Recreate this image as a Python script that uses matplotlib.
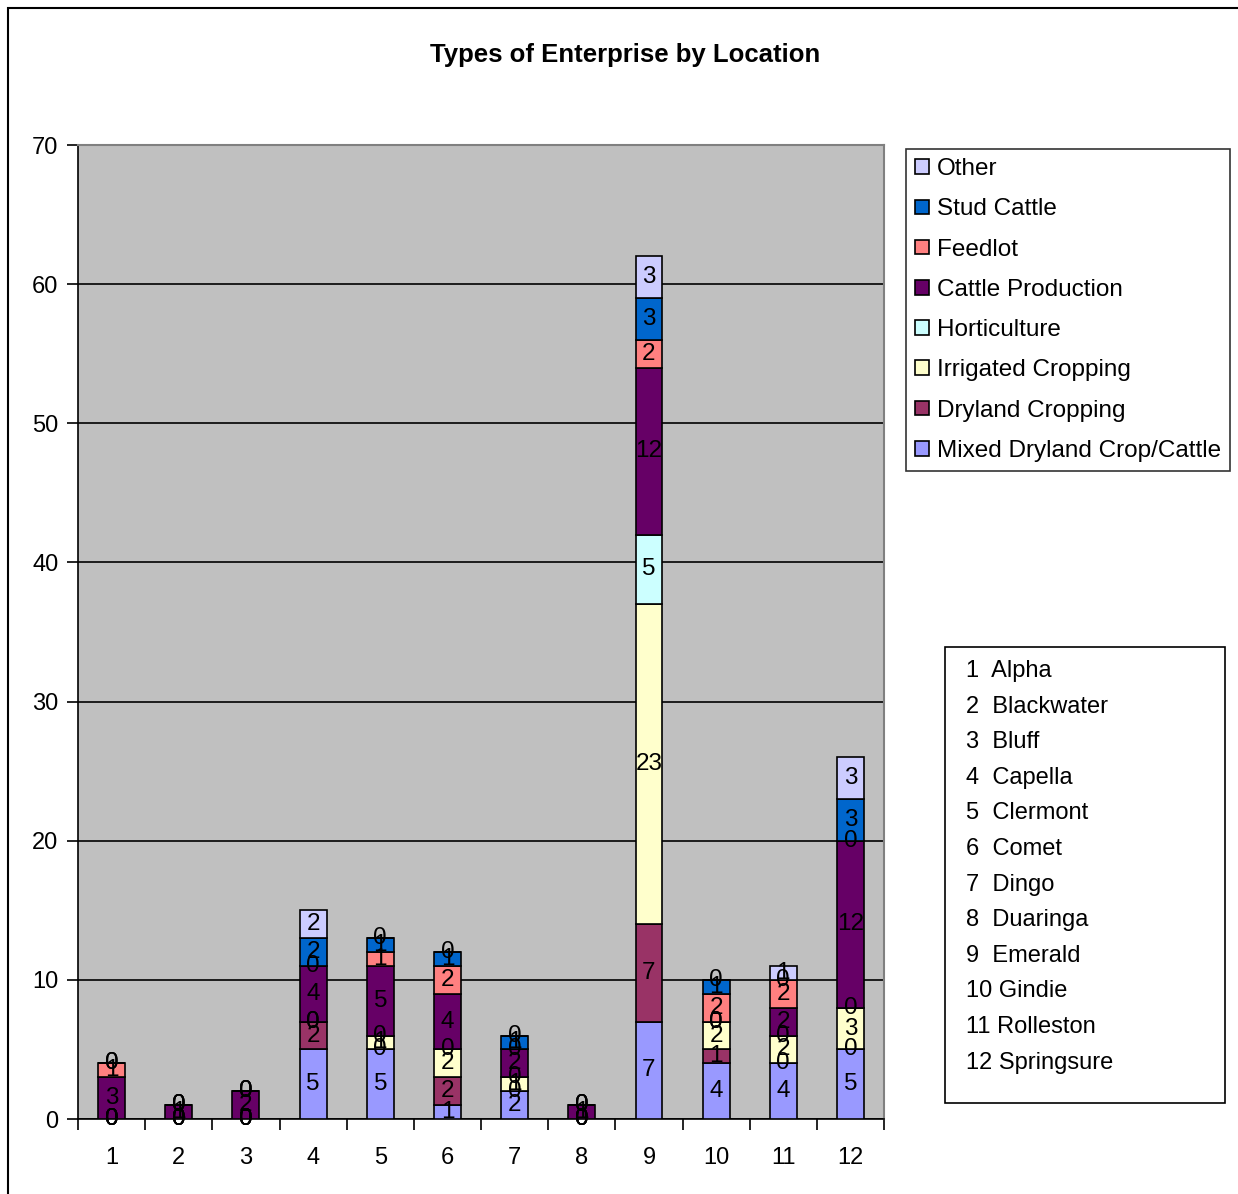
import matplotlib.pyplot as plt
from matplotlib.patches import Rectangle
import numpy as np

plt.rcParams['font.family'] = ['Liberation Sans', 'DejaVu Sans']

locations = ["Alpha", "Blackwater", "Bluff", "Capella", "Clermont", "Comet",
             "Dingo", "Duaringa", "Emerald", "Gindie", "Rolleston", "Springsure"]

series_names = ["Mixed Dryland Crop/Cattle", "Dryland Cropping", "Irrigated Cropping",
                "Horticulture", "Cattle Production", "Feedlot", "Stud Cattle", "Other"]

mixed_dryland = [0, 0, 0, 5, 5, 1, 2, 0, 7, 4, 4, 5]
dryland_cropping = [0, 0, 0, 2, 0, 2, 0, 0, 7, 1, 0, 0]
irrigated_cropping = [0, 0, 0, 0, 1, 2, 1, 0, 23, 2, 2, 3]
horticulture = [0, 0, 0, 0, 0, 0, 0, 0, 5, 0, 0, 0]
cattle_production = [3, 1, 2, 4, 5, 4, 2, 1, 12, 0, 2, 12]
feedlot = [1, 0, 0, 0, 1, 2, 0, 0, 2, 2, 2, 0]
stud_cattle = [0, 0, 0, 2, 1, 1, 1, 0, 3, 1, 0, 3]
other = [0, 0, 0, 2, 0, 0, 0, 0, 3, 0, 1, 3]

series_values = [mixed_dryland, dryland_cropping, irrigated_cropping, horticulture,
                 cattle_production, feedlot, stud_cattle, other]
colors = ["#9999FF", "#993366", "#FFFFCC", "#CCFFFF",
          "#660066", "#FF8080", "#0066CC", "#CCCCFF"]

fig = plt.figure(figsize=(12.38, 11.94), dpi=100)
ax = fig.add_axes([0.0630, 0.0628, 0.6511, 0.8157])
ax.set_facecolor("#C0C0C0")

x = np.arange(1, len(locations) + 1)
bottom = np.zeros(len(locations))
bars = []
for name, vals, col in zip(series_names, series_values, colors):
    b = ax.bar(x, vals, width=0.4, bottom=bottom, color=col,
               edgecolor="black", linewidth=1.2, label=name, zorder=3)
    ax.bar_label(b, labels=[str(v) for v in vals], label_type="center",
                 fontsize=17.5, color="black", zorder=4)
    bars.append(b)
    bottom += np.array(vals)

ax.set_xlim(0.5, 12.5)
ax.set_ylim(0, 70)
ax.set_yticks(range(0, 71, 10))
ax.grid(axis="y", color="black", linewidth=1.2, zorder=1)
ax.set_xticks(x)
ax.set_xticks(np.arange(0.5, 12.6, 1), minor=True)
ax.tick_params(axis="x", which="major", length=0, labelsize=17, pad=20)
ax.tick_params(axis="x", which="minor", length=8, width=1.2, direction="out")
ax.tick_params(axis="y", length=8, width=1.2, labelsize=17, pad=6)
for s in ("left", "bottom"):
    ax.spines[s].set_linewidth(1.2)
for s in ("top", "right"):
    ax.spines[s].set_color("#808080")
    ax.spines[s].set_linewidth(1.5)

fig.text(0.505, 0.954, "Types of Enterprise by Location", ha="center", va="center",
         fontsize=18.5, fontweight="bold")

handles = [b.patches[0] for b in bars][::-1]
leg = fig.legend(handles, series_names[::-1], loc="upper left",
                 bbox_to_anchor=(906 / 1238, 1 - 149 / 1194), fontsize=17.5,
                 frameon=True, fancybox=False, edgecolor="black",
                 handlelength=0.55, handleheight=0.55, handletextpad=0.35,
                 labelspacing=0.75, borderpad=0.38, borderaxespad=0)
leg.get_frame().set_linewidth(1.2)

# location key box
fig.patches.append(Rectangle((945 / 1238, 1 - 1103 / 1194), 280 / 1238, 456 / 1194,
                             transform=fig.transFigure, facecolor="white",
                             edgecolor="black", linewidth=1.2))
for i, loc in enumerate(locations):
    y = 1 - (671 + i * 35.6) / 1194
    n = i + 1
    label = f"{n}  {loc}" if n < 10 else f"{n} {loc}"
    fig.text(966 / 1238, y, label, ha="left", va="center", fontsize=17)

# outer chart border
fig.patches.append(Rectangle((8 / 1238, -0.01), 1.0, 1 - 8 / 1194 + 0.01,
                             transform=fig.transFigure, facecolor="none",
                             edgecolor="black", linewidth=1.5))

fig.savefig("out.png", dpi=100)
